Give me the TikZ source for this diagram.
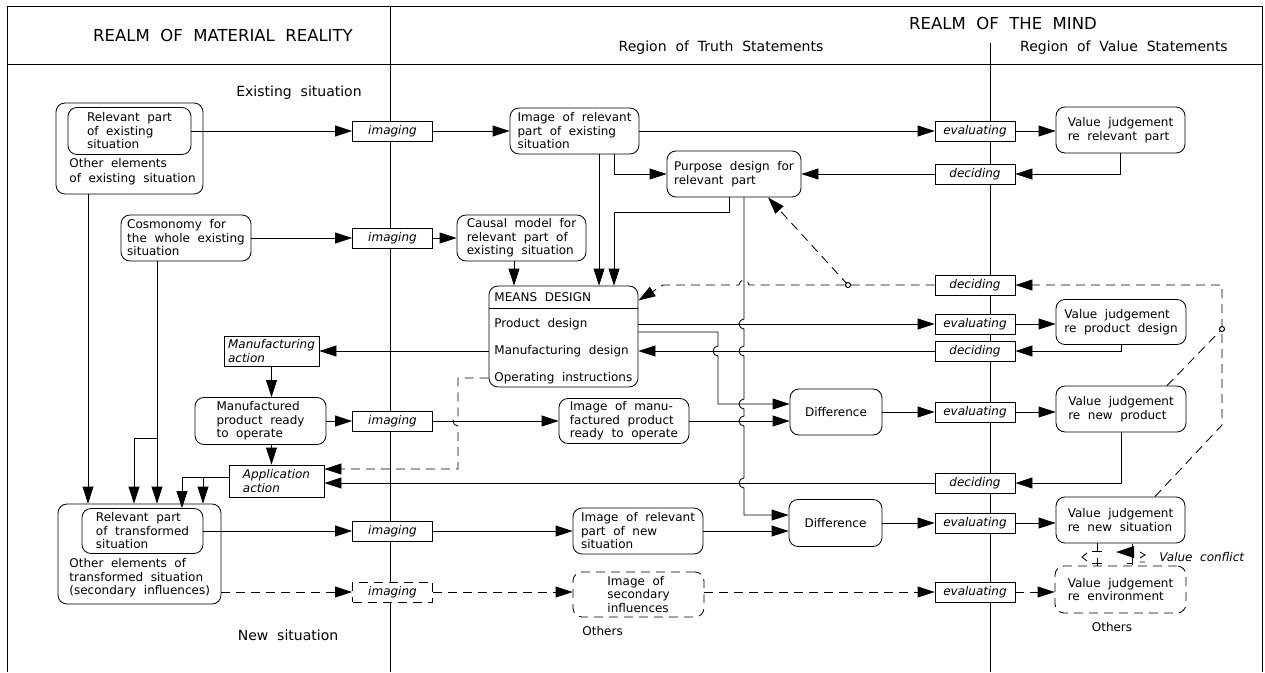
\documentclass[tikz,border=0pt]{standalone}
\usepackage{fontspec}
\setmainfont{DejaVu Sans}[WordSpace={2.0}]
\usetikzlibrary{arrows.meta}
\begin{document}
\begin{tikzpicture}[x=1pt,y=-1pt,line width=0.85pt,
  every node/.style={font=\fontsize{12}{13.5}\selectfont},
  rbox/.style={draw, fill=white, rounded corners=9pt, align=left, inner sep=2pt},
  act/.style={draw, fill=white, font=\fontsize{12}{13.5}\selectfont\itshape, minimum width=80pt, minimum height=20pt, inner sep=1pt, align=left},
  arr/.style={-{Triangle[length=17pt,width=11pt]}},
  dsh/.style={dash pattern=on 9pt off 6pt},
  txt/.style={align=left, inner sep=0pt},
  big/.style={font=\fontsize{16.5}{18}\selectfont},
  mid/.style={font=\fontsize{14}{16}\selectfont}]
\useasboundingbox (0,0) rectangle (1265,672);

% frame, header and realm dividers
\draw (7,672) -- (7,6) -- (1262,6) -- (1262,672);
\draw (7,64) -- (1262,64);
\draw (390,6) -- (390,672);
\draw (990,43) -- (990,672);

\node[big] (t1) at (223,35) {REALM OF MATERIAL REALITY};
\node[big] (t2) at (1003,23) {REALM OF THE MIND};
\node[mid] (t3) at (721,48) {Region of Truth Statements};
\node[mid] (t4) at (1124,48) {Region of Value Statements};
\node[mid] (t5) at (299,93) {Existing situation};
\node[mid] (t6) at (288,635) {New situation};

% existing situation
\node[rbox, minimum width=147pt, minimum height=91pt] (eout) at (129.5,148.5) {};
\node[rbox, minimum width=123pt, minimum height=47pt] (erel) at (129.5,131) {Relevant part\\of existing\\situation};
\node[txt, anchor=west] (eoth) at (69,171.5) {Other elements\\[1pt]of existing situation};
\node[rbox, minimum width=130pt, minimum height=46pt] (cosm) at (186,238) {Cosmonomy for\\the whole existing\\situation};

% imaging actions on the border of the realms
\node[act] (img1) at (392.5,131) {imaging};
\node[act] (img2) at (392.5,238) {imaging};
\node[act] (img3) at (392.5,421) {imaging};
\node[act] (img4) at (392.5,531) {imaging};
\node[act, dsh] (img5) at (392.5,592) {imaging};

% truth statements
\node[rbox, minimum width=129pt, minimum height=46pt] (irel) at (574.5,131) {Image of relevant\\part of existing\\situation};
\node[rbox, minimum width=134pt, minimum height=46pt] (purp) at (734,174) {Purpose design for\\relevant part};
\node[rbox, minimum width=129pt, minimum height=46pt] (caus) at (521.5,238) {Causal model for\\relevant part of\\existing situation};
\node[rbox, minimum width=149pt, minimum height=101pt] (means) at (563.5,336.5) {};
\draw (means.west |- 0,308) -- (means.east |- 0,308);
\node[txt, anchor=west] (mhead) at (494,297) {MEANS DESIGN};
\node[txt, anchor=west] (mprod) at (494,324) {Product design};
\node[txt, anchor=west] (mmanu) at (494,351) {Manufacturing design};
\node[txt, anchor=west] (moper) at (494,378) {Operating instructions};
\node[rbox, minimum width=130pt, minimum height=45pt] (imfg) at (624,421) {Image of manu-\\factured product\\ready to operate};
\node[rbox, minimum width=92pt, minimum height=46pt, align=center] (diff1) at (836,412) {Difference};
\node[rbox, minimum width=93pt, minimum height=47pt, align=center] (diff2) at (835.5,523) {Difference};
\node[rbox, minimum width=130pt, minimum height=46pt] (inew) at (638,531) {Image of relevant\\part of new\\situation};
\node[rbox, dsh, minimum width=131pt, minimum height=45pt] (isec) at (638.5,594.5) {Image of\\secondary\\influences};
\node[txt, anchor=west] (oth1) at (582,631) {Others};

% material actions and products
\node[act, minimum width=95pt, minimum height=30pt] (mfga) at (271.5,351) {Manufacturing\\action};
\node[rbox, minimum width=131pt, minimum height=47pt] (mprd) at (260.5,421) {Manufactured\\product ready\\to operate};
\node[act, minimum width=95pt, minimum height=32pt] (appa) at (276.5,481) {Application\\action};

% new situation
\node[rbox, minimum width=163pt, minimum height=100pt] (tout) at (139.5,554) {};
\node[rbox, minimum width=121pt, minimum height=45pt] (trel) at (142.5,531) {Relevant part\\of transformed\\situation};
\node[txt, anchor=west] (toth) at (69,578) {Other elements of\\transformed situation\\(secondary influences)};

% evaluating and deciding
\node[act] (eval1) at (975,131) {evaluating};
\node[act] (dec1) at (975,174) {deciding};
\node[act] (dec3) at (975,285) {deciding};
\node[act] (eval2) at (975,324) {evaluating};
\node[act] (dec2) at (975,351) {deciding};
\node[act] (eval3) at (975,412) {evaluating};
\node[act] (dec4) at (975,483) {deciding};
\node[act] (eval4) at (975,523) {evaluating};
\node[act] (eval5) at (975,592) {evaluating};

% value statements
\node[rbox, minimum width=129pt, minimum height=46pt] (vj1) at (1120.5,130) {Value judgement\\re relevant part};
\node[rbox, minimum width=130pt, minimum height=45pt] (vj2) at (1121,322) {Value judgement\\re product design};
\node[rbox, minimum width=130pt, minimum height=46pt] (vj3) at (1121,409) {Value judgement\\re new product};
\node[rbox, minimum width=129pt, minimum height=46pt] (vj4) at (1120.5,520) {Value judgement\\re new situation};
\node[rbox, dsh, minimum width=131pt, minimum height=47pt] (vjenv) at (1120.5,589.5) {Value judgement\\re environment};
\node[anchor=center, inner sep=0pt] (oth2) at (1112,627) {Others};
\node[txt, anchor=west, font=\fontsize{12}{13.5}\selectfont\itshape] (vc) at (1159,557) {Value conflict};

% existing situation flow
\draw[arr] (erel) -- (img1);
\draw[arr] (img1) -- (irel);
\draw[arr] (irel) -- (eval1);
\draw[arr] (eval1) -- (eval1.east -| vj1.west);
\draw[arr] (vj1.south) |- (dec1.east);
\draw[arr] (dec1) -- (purp);
\coordinate (p0) at ([xshift=39.5pt]irel.south);
\draw[arr] (p0) |- (purp.west);
\coordinate (p1) at ([xshift=24.5pt]irel.south);
\draw[arr] (p1) -- (p1 |- means.north);
\coordinate (k1) at (614,212);
\draw[arr] ([xshift=-5pt]purp.south) |- (k1) -- (k1 |- means.north);
\draw[arr] (cosm) -- (img2);
\draw[arr] (img2) -- (caus);
\coordinate (p2) at ([xshift=-7.5pt]caus.south);
\draw[arr] (p2) -- (p2 |- means.north);

% purpose design down to the comparison of situations, jumping crossings
\draw[arr] ([xshift=10pt]purp.south) -- (744,319) arc(270:90:5) -- (744,346) arc(270:90:5)
  -- (744,399) arc(270:90:5) -- (744,416) arc(270:90:5) -- (744,478) arc(270:90:5)
  -- (744,515) -- (diff2.west |- 0,515);

% means design outputs
\draw[arr] (means.east |- mprod) -- (eval2.west);
\draw[arr] (eval2) -- (eval2.east -| vj2.west);
\draw[arr] (vj2.south) |- (dec2.east);
\draw[arr] (dec2.west) -- (means.east |- mmanu);
\draw[arr] (means.east |- 0,332) -- (718,332) -- (718,346) arc(270:90:5) -- (718,404) -- (diff1.west |- 0,404);
\draw[arr] (means.west |- mmanu) -- (mfga.east);
\draw[arr] (mfga.south) -- (mfga.south |- mprd.north);
\draw[arr] (mprd) -- (img3);
\draw[arr] (img3) -- (imfg);
\draw[arr] (imfg.east) -- (imfg.east -| diff1.west);
\draw[arr] (diff1) -- (eval3);
\draw[arr] (eval3) -- (eval3.east -| vj3.west);
\draw[arr] (vj3.south) |- (dec4.east);
\draw[arr] (dec4.west) -- (dec4.west -| appa.east);
\draw[arr] (mprd.south -| mfga.south) -- (mfga.south |- appa.north);
\draw[arr, dsh] (means.west |- moper) -- (458,378) -- (458,416) arc(270:90:5) -- (458,469) -- (appa.east |- 0,469);

% into the new situation
\draw[arr] (appa.west |- 0,477) -- (182,477) -- (trel.north -| 182,0);
\draw[arr] (203,477) -- (tout.north -| 203,0);
\coordinate (p4) at (eout.south -| 88,0);
\draw[arr] (p4) -- (tout.north -| p4);
\coordinate (p5) at (cosm.south -| 157,0);
\draw[arr] (p5) -- (tout.north -| p5);
\draw[arr] (157,438) -- (134,438) -- (tout.north -| 134,0);

% new situation flow
\draw[arr] (trel) -- (img4);
\draw[arr] (img4) -- (inew);
\draw[arr] (inew.east) -- (inew.east -| diff2.west);
\draw[arr] (diff2) -- (eval4);
\draw[arr] (eval4) -- (eval4.east -| vj4.west);
\draw[arr, dsh] (tout.east |- 0,592) -- (img5.west);
\draw[arr, dsh] (img5) -- (img5.east -| isec.west);
\draw[arr, dsh] (isec.east |- 0,592) -- (eval5.west);
\draw[arr, dsh] (eval5) -- (eval5.east -| vjenv.west);

% feedback from the value judgements
\coordinate (j2) at (1222,329);
\coordinate (j1) at (848,285);
\draw[arr, dsh] ([xshift=34.5pt]vj4.north) -- (1222,425) -- (1222,285) -- (dec3.east);
\draw[dsh] ([xshift=46pt]vj3.north) -- (j2);
\draw[arr, dsh] (dec3.west) -- (749,285) arc(360:180:5) -- (663,285) -- ([yshift=36pt]means.east);
\draw[arr, dsh] (j1) -- ([xshift=34pt]purp.south);
\filldraw[fill=white, line width=1pt] (j1) circle (2.5);
\filldraw[fill=white, line width=1pt] (j2) circle (2.5);

% value conflict mark
\draw (1097,543) -- (1097,551) (1092,551) -- (1102,551);
\draw (1097,558) -- (1097,566) (1092,563) -- (1102,563);
\draw (1087,553) -- (1082,557) -- (1087,561);
\draw (1132,544) -- (1132,565) (1127,563) -- (1132,563);
\fill (1116,552) -- (1134,546) -- (1134,558) -- cycle;
\draw (1140,552) -- (1145,555) -- (1140,558) (1140,562) -- (1145,562);
\end{tikzpicture}
\end{document}
